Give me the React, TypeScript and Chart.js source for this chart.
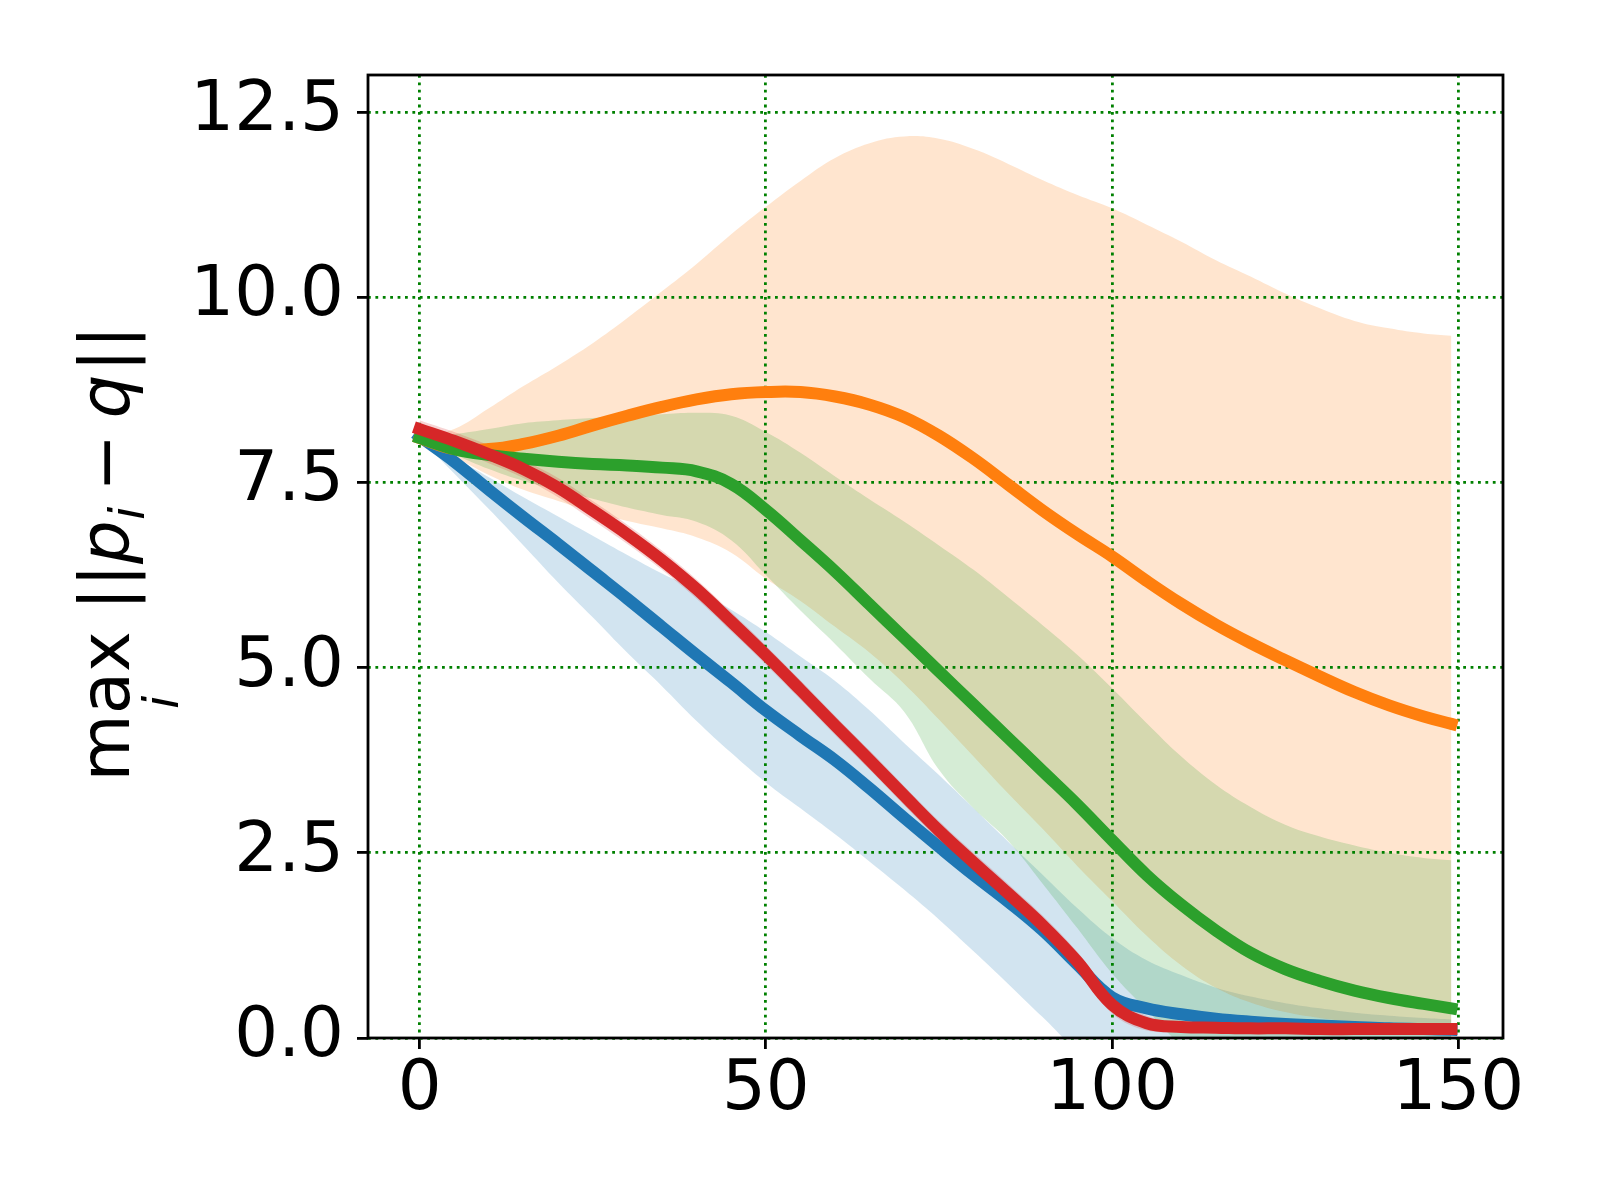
import React, { useEffect, useRef } from "react";
import { Chart, registerables } from "chart.js";

Chart.register(...registerables);

// sample positions along the x axis (iterations)
const steps = [0, 5, 10, 15, 20, 25, 30, 35, 40, 45, 50, 55, 60, 65, 70, 75, 80, 85, 90, 95, 100, 105, 110, 115, 120, 125, 130, 135, 140, 145, 149];

const blueMean = [8.12, 7.78, 7.4, 7.03, 6.67, 6.3, 5.93, 5.55, 5.17, 4.8, 4.42, 4.08, 3.75, 3.37, 2.97, 2.58, 2.2, 1.84, 1.45, 0.99, 0.55, 0.4, 0.32, 0.26, 0.22, 0.19, 0.17, 0.15, 0.13, 0.12, 0.11];
const blueUpper = [8.1, 7.84, 7.57, 7.3, 7.04, 6.78, 6.52, 6.27, 6.05, 5.78, 5.48, 5.15, 4.82, 4.42, 3.98, 3.55, 3.1, 2.65, 2.2, 1.75, 1.35, 1.05, 0.85, 0.68, 0.56, 0.47, 0.4, 0.34, 0.3, 0.27, 0.25];
const blueLower = [8.1, 7.62, 7.14, 6.65, 6.15, 5.68, 5.2, 4.75, 4.28, 3.85, 3.45, 3.1, 2.75, 2.38, 2.0, 1.6, 1.17, 0.73, 0.28, -0.15, -0.35, -0.38, -0.33, -0.27, -0.22, -0.17, -0.13, -0.1, -0.08, -0.07, -0.06];

const orangeMean = [8.1, 7.95, 7.95, 8.02, 8.13, 8.27, 8.4, 8.52, 8.62, 8.69, 8.72, 8.72, 8.66, 8.55, 8.38, 8.13, 7.82, 7.47, 7.12, 6.8, 6.5, 6.17, 5.86, 5.58, 5.33, 5.1, 4.88, 4.67, 4.49, 4.34, 4.24];
const orangeUpper = [8.1, 8.22, 8.5, 8.8, 9.08, 9.38, 9.72, 10.08, 10.45, 10.85, 11.22, 11.57, 11.88, 12.08, 12.17, 12.14, 12.0, 11.8, 11.58, 11.38, 11.2, 10.98, 10.75, 10.5, 10.28, 10.05, 9.85, 9.68, 9.58, 9.51, 9.48];
const orangeLower = [8.1, 7.85, 7.6, 7.4, 7.25, 7.1, 6.98, 6.88, 6.76, 6.55, 6.2, 5.9, 5.55, 5.2, 4.78, 4.3, 3.8, 3.3, 2.82, 2.32, 1.85, 1.38, 0.98, 0.68, 0.48, 0.35, 0.27, 0.22, 0.19, 0.17, 0.16];

const greenMean = [8.1, 7.95, 7.87, 7.82, 7.78, 7.75, 7.73, 7.7, 7.65, 7.48, 7.13, 6.72, 6.3, 5.85, 5.4, 4.95, 4.5, 4.05, 3.6, 3.15, 2.67, 2.2, 1.8, 1.45, 1.15, 0.93, 0.77, 0.64, 0.54, 0.46, 0.4];
const greenUpper = [8.1, 8.15, 8.22, 8.3, 8.34, 8.37, 8.4, 8.42, 8.44, 8.4, 8.18, 7.9, 7.58, 7.27, 6.97, 6.65, 6.32, 5.95, 5.57, 5.17, 4.72, 4.25, 3.8, 3.42, 3.12, 2.88, 2.72, 2.6, 2.5, 2.43, 2.4];
const greenLower = [8.1, 7.88, 7.68, 7.52, 7.4, 7.28, 7.16, 7.06, 6.97, 6.72, 6.25, 5.77, 5.32, 4.85, 4.4, 3.62, 3.1, 2.66, 2.08, 1.48, 0.87, 0.38, -0.1, -0.4, -0.55, -0.6, -0.6, -0.6, -0.6, -0.6, -0.6];

const redMean = [8.22, 8.06, 7.88, 7.68, 7.43, 7.12, 6.8, 6.45, 6.06, 5.62, 5.17, 4.7, 4.22, 3.75, 3.27, 2.8, 2.37, 1.95, 1.52, 1.03, 0.45, 0.2, 0.15, 0.14, 0.13, 0.13, 0.12, 0.12, 0.12, 0.12, 0.12];
const redUpper = [8.34, 8.18, 8.0, 7.8, 7.56, 7.25, 6.93, 6.58, 6.19, 5.75, 5.3, 4.83, 4.35, 3.88, 3.4, 2.93, 2.5, 2.08, 1.65, 1.16, 0.58, 0.3, 0.21, 0.19, 0.18, 0.17, 0.17, 0.17, 0.17, 0.17, 0.17];
const redLower = [8.1, 7.94, 7.76, 7.56, 7.3, 6.99, 6.67, 6.32, 5.93, 5.49, 5.04, 4.57, 4.09, 3.62, 3.14, 2.67, 2.24, 1.82, 1.39, 0.9, 0.33, 0.1, 0.09, 0.09, 0.08, 0.08, 0.07, 0.07, 0.07, 0.07, 0.07];

const xTickValues = [0, 50, 100, 150];
const xTickLabels = ["0", "50", "100", "150"];
const yTickValues = [0, 2.5, 5, 7.5, 10, 12.5];
const yTickLabels = ["0.0", "2.5", "5.0", "7.5", "10.0", "12.5"];

const FONT = "'DejaVu Sans', sans-serif";
const TICK_SIZE = 69;

const pts = (ys: number[]) => steps.map((x, i) => ({ x, y: ys[i] }));

const lineSet = (data: number[], color: string, order: number) => ({
    data: pts(data),
    borderColor: color,
    borderWidth: 12,
    fill: false,
    order,
});

const bandSet = (data: number[], fill: any, color: string, order: number) => ({
    data: pts(data),
    borderWidth: 0,
    borderColor: "transparent",
    backgroundColor: color,
    fill,
    order,
});

// black box around the plot area, drawn over the curves
const framePlugin = {
    id: "frame",
    afterDatasetsDraw(chart: any) {
        const { ctx, chartArea } = chart;
        ctx.save();
        ctx.strokeStyle = "#000";
        ctx.lineWidth = 2.8;
        ctx.strokeRect(chartArea.left, chartArea.top, chartArea.right - chartArea.left, chartArea.bottom - chartArea.top);
        ctx.restore();
    },
};

// rotated y title: max_i ||p_i - q||
const yTitlePlugin = {
    id: "yTitle",
    afterDraw(chart: any) {
        const { ctx, chartArea } = chart;
        const size = 69;
        const sub = Math.round(size * 0.7);
        const roman = `${size}px ${FONT}`;
        const italic = `italic ${size}px ${FONT}`;
        const subItalic = `italic ${sub}px ${FONT}`;
        const parts = [
            { text: "max", font: roman, shift: 0, gap: size * 0.3 },
            { text: "||", font: roman, shift: 0, gap: 0 },
            { text: "p", font: italic, shift: 0, gap: 0 },
            { text: "i", font: subItalic, shift: size * 0.22, gap: size * 0.22 },
            { text: "\u2212", font: roman, shift: 0, gap: size * 0.22 },
            { text: "q", font: italic, shift: 0, gap: size * 0.04 },
            { text: "||", font: roman, shift: 0, gap: 0 },
        ];
        ctx.save();
        ctx.fillStyle = "#000";
        ctx.textBaseline = "alphabetic";
        ctx.textAlign = "left";
        const widths = parts.map((p) => {
            ctx.font = p.font;
            return ctx.measureText(p.text).width;
        });
        const total = widths.reduce((s, w, i) => s + w + (i < parts.length - 1 ? parts[i].gap : 0), 0);
        ctx.translate(129, (chartArea.top + chartArea.bottom) / 2 - 3);
        ctx.rotate(-Math.PI / 2);
        let x = -total / 2;
        parts.forEach((p, i) => {
            ctx.font = p.font;
            ctx.fillText(p.text, x, p.shift);
            if (i === 0) {
                ctx.font = subItalic;
                const iw = ctx.measureText("i").width;
                ctx.fillText("i", x + widths[0] / 2 - iw / 2 + 4, 49);
            }
            x += widths[i] + p.gap;
        });
        ctx.restore();
    },
};

const axisCommon = {
    grid: {
        color: "green",
        lineWidth: 2.8,
        drawTicks: true,
        tickLength: 11,
        tickColor: "#000",
        tickWidth: 2.8,
        tickBorderDash: [],
    },
    border: { display: false, dash: [2.8, 4.6] },
};

const App: React.FC = () => {
    const chartRef = useRef<HTMLCanvasElement | null>(null);
    const chartInstance = useRef<Chart | null>(null);

    useEffect(() => {
        document.body.style.margin = "0";
        const ctx = chartRef.current?.getContext("2d");
        if (!ctx) return;

        chartInstance.current = new Chart(ctx, {
            type: "line",
            data: {
                datasets: [
                    lineSet(redMean, "#d62728", 1),
                    lineSet(greenMean, "#2ca02c", 2),
                    lineSet(orangeMean, "#ff7f0e", 3),
                    lineSet(blueMean, "#1f77b4", 4),
                    bandSet(redUpper, "+1", "rgba(214, 39, 40, 0.2)", 5),
                    bandSet(redLower, false, "transparent", 6),
                    bandSet(greenUpper, "+1", "rgba(44, 160, 44, 0.2)", 7),
                    bandSet(greenLower, false, "transparent", 8),
                    bandSet(orangeUpper, "+1", "rgba(255, 127, 14, 0.2)", 9),
                    bandSet(orangeLower, false, "transparent", 10),
                    bandSet(blueUpper, "+1", "rgba(31, 119, 180, 0.2)", 11),
                    bandSet(blueLower, false, "transparent", 12),
                ] as any,
            },
            options: {
                responsive: false,
                animation: false,
                devicePixelRatio: 1,
                events: [],
                layout: { padding: { top: 75, right: 97, bottom: 0, left: 0 } },
                elements: {
                    point: { radius: 0 },
                    line: {
                        tension: 0.4,
                        borderCapStyle: "square",
                        borderJoinStyle: "round",
                    },
                },
                plugins: {
                    legend: { display: false },
                    tooltip: { enabled: false },
                    filler: { drawTime: "beforeDraw", propagate: false },
                },
                scales: {
                    x: {
                        ...axisCommon,
                        type: "linear",
                        min: -7.45,
                        max: 156.45,
                        afterBuildTicks: (axis: any) => {
                            axis.ticks = xTickValues.map((v) => ({ value: v }));
                        },
                        afterFit: (axis: any) => {
                            axis.height = 162;
                        },
                        ticks: {
                            autoSkip: false,
                            maxRotation: 0,
                            minRotation: 0,
                            padding: 8,
                            color: "#000",
                            font: { family: FONT, size: TICK_SIZE, lineHeight: 1 },
                            callback: (_v: any, i: number) => xTickLabels[i],
                        },
                    },
                    y: {
                        ...axisCommon,
                        type: "linear",
                        min: 0,
                        max: 13,
                        afterBuildTicks: (axis: any) => {
                            axis.ticks = yTickValues.map((v) => ({ value: v }));
                        },
                        afterFit: (axis: any) => {
                            axis.width = 368;
                        },
                        ticks: {
                            autoSkip: false,
                            padding: 13,
                            color: "#000",
                            font: { family: FONT, size: TICK_SIZE, lineHeight: 1 },
                            callback: (_v: any, i: number) => yTickLabels[i],
                        },
                    },
                },
            } as any,
            plugins: [framePlugin, yTitlePlugin],
        });

        return () => {
            if (chartInstance.current) {
                chartInstance.current.destroy();
                chartInstance.current = null;
            }
        };
    }, []);

    return (
        <div style={{ position: "absolute", left: 0, top: 0, width: 1600, height: 1200, background: "#fff" }}>
            <canvas ref={chartRef} width={1600} height={1200} style={{ display: "block" }}></canvas>
        </div>
    );
};

export default App;
